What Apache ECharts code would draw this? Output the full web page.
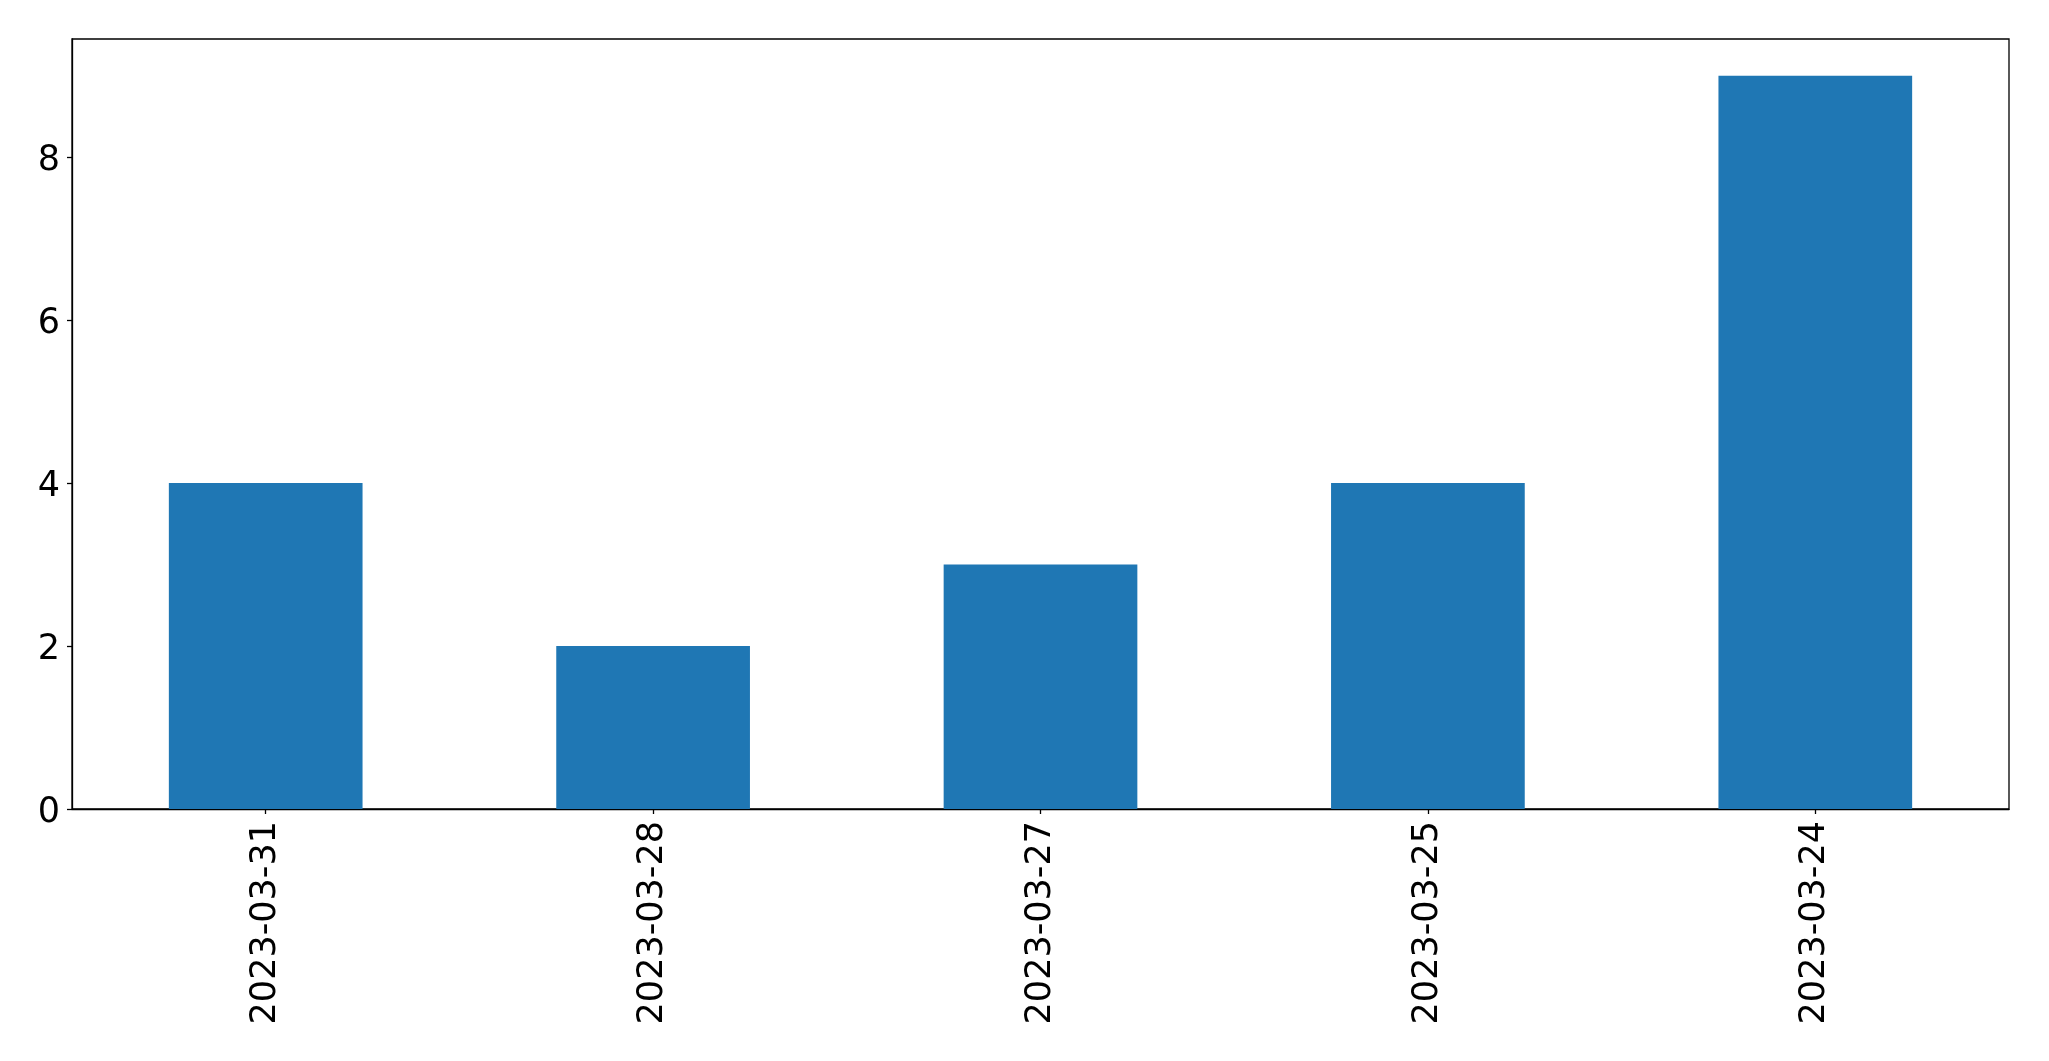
<!DOCTYPE html>
<html>
<head>
<meta charset="utf-8">
<script src="https://cdn.jsdelivr.net/npm/echarts@6/dist/echarts.min.js"></script>
<style>html,body{margin:0;padding:0;background:#fff}#c{width:2049px;height:1061px}</style>
</head>
<body>
<div id="c"></div>
<script>
const categories = ['2023-03-31', '2023-03-28', '2023-03-27', '2023-03-25', '2023-03-24'];
const values = [4, 2, 3, 4, 9];
const yTicks = [0, 2, 4, 6, 8];

const chart = echarts.init(document.getElementById('c'), null, {renderer: 'canvas'});
const font = 'DejaVu Sans';
chart.setOption({
  animation: false,
  backgroundColor: '#ffffff',
  grid: {left: 72, top: 39, right: 40, bottom: 252, show: true, borderColor: '#000', borderWidth: 1.3, backgroundColor: 'transparent', containLabel: false},
  xAxis: {
    type: 'category',
    data: categories,
    boundaryGap: true,
    axisLine: {show: true, lineStyle: {color: '#000', width: 1.3}},
    axisTick: {show: true, alignWithLabel: true, length: 5, lineStyle: {color: '#000', width: 1.3}},
    axisLabel: {rotate: 90, fontSize: 35, fontFamily: font, color: '#000', margin: 12, interval: 0},
    splitLine: {show: false}
  },
  yAxis: {
    type: 'value',
    min: 0,
    max: 9.45,
    interval: 2,
    axisLine: {show: true, lineStyle: {color: '#000', width: 1.3}},
    axisTick: {show: true, length: 5, lineStyle: {color: '#000', width: 1.3}, customValues: yTicks},
    axisLabel: {
      fontSize: 35, fontFamily: font, color: '#000', margin: 12, customValues: yTicks,
      formatter: function (v) { return '{a|' + v + '}'; },
      rich: {a: {fontSize: 35, fontFamily: font, color: '#000', lineHeight: 35, padding: [8, 0, 0, 0]}}
    },
    splitLine: {show: false}
  },
  series: [{
    type: 'bar',
    data: values,
    barWidth: '50%',
    itemStyle: {color: '#1f77b4'}
  }]
});
</script>
</body>
</html>
